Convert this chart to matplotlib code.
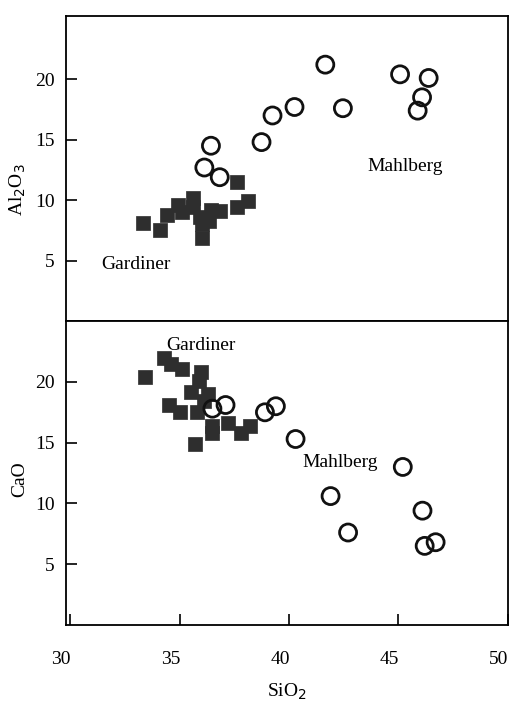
import matplotlib
matplotlib.use("Agg")
import matplotlib.pyplot as plt
from matplotlib.transforms import ScaledTranslation

plt.rcParams['font.family'] = ['Liberation Serif', 'DejaVu Serif']

# Top panel: Al2O3 vs SiO2
gard_si_top = [33.3, 34.1, 34.4, 34.9, 35.1, 35.6, 35.6, 35.9, 36.0, 36.0, 36.3, 36.4, 36.8, 37.6, 38.1, 37.6]
gard_al = [8.1, 7.5, 8.8, 9.6, 9.0, 10.2, 9.4, 8.6, 8.0, 6.9, 8.3, 9.2, 9.1, 9.4, 9.9, 11.5]
mahl_si_top = [36.4, 36.1, 36.8, 38.7, 39.2, 40.2, 41.6, 42.4, 45.0, 46.3, 46.0, 45.8]
mahl_al = [14.5, 12.7, 11.9, 14.8, 17.0, 17.7, 21.2, 17.6, 20.4, 20.1, 18.5, 17.4]

# Bottom panel: CaO vs SiO2
gard_si_bot = [33.4, 34.3, 34.6, 35.1, 36.0, 35.9, 35.5, 36.3, 34.5, 35.0, 35.8, 36.5, 36.5, 37.2, 37.8, 38.2, 35.7, 36.1]
gard_ca = [20.4, 22.0, 21.5, 21.1, 20.8, 20.1, 19.2, 19.0, 18.1, 17.5, 17.5, 16.4, 15.8, 16.6, 15.8, 16.4, 14.9, 18.4]
mahl_si_bot = [36.5, 37.1, 38.9, 39.4, 40.3, 45.2, 41.9, 42.7, 46.1, 46.2, 46.7]
mahl_ca = [17.8, 18.1, 17.5, 18.0, 15.3, 13.0, 10.6, 7.6, 9.4, 6.5, 6.8]

yticks = [5, 10, 15, 20]
xticks = [30, 35, 40, 45, 50]

fig = plt.figure(figsize=(5.14, 7.06), dpi=100)
ax1 = fig.add_axes([0.128, 0.545, 0.860, 0.432])
ax2 = fig.add_axes([0.128, 0.115, 0.860, 0.430])

sq_kw = dict(marker='s', s=88, c='#2e2e2e', edgecolors='#2e2e2e', linewidths=0.5, zorder=2)
ci_kw = dict(marker='o', s=150, facecolors='none', edgecolors='#111111', linewidths=2.0, zorder=3)

ax1.scatter(gard_si_top, gard_al, **sq_kw)
ax1.scatter(mahl_si_top, mahl_al, **ci_kw)
ax2.scatter(gard_si_bot, gard_ca, **sq_kw)
ax2.scatter(mahl_si_bot, mahl_ca, **ci_kw)

for ax in (ax1, ax2):
    ax.set_xlim(29.8, 49.9)
    ax.set_yticks(yticks)
    ax.tick_params(axis='y', direction='in', length=8, width=1.2, pad=8, labelsize=14)
    for sp in ax.spines.values():
        sp.set_linewidth(1.3)

ax1.set_ylim(0, 25.2)
ax2.set_ylim(0, 25)
ax1.set_xticks([])
ax2.set_xticks(xticks)
ax2.tick_params(axis='x', direction='in', length=8, width=1.2, pad=19, labelsize=14)
shift = ScaledTranslation(-9 / 100, 0, fig.dpi_scale_trans)
for lab in ax2.get_xticklabels():
    lab.set_transform(lab.get_transform() + shift)

ax1.set_ylabel('Al$_2$O$_3$', fontsize=14)
ax2.set_ylabel('CaO', fontsize=14)
ax1.yaxis.set_label_coords(-0.085, 0.43)
ax2.yaxis.set_label_coords(-0.085, 0.48)
ax2.set_xlabel('SiO$_2$', fontsize=14, labelpad=10)

ax1.text(31.4, 4.7, 'Gardiner', fontsize=14, va='center', ha='left')
ax1.text(43.5, 12.8, 'Mahlberg', fontsize=14, va='center', ha='left')
ax2.text(34.4, 23.0, 'Gardiner', fontsize=14, va='center', ha='left')
ax2.text(40.6, 13.4, 'Mahlberg', fontsize=14, va='center', ha='left')

fig.savefig('out.png', dpi=100)
